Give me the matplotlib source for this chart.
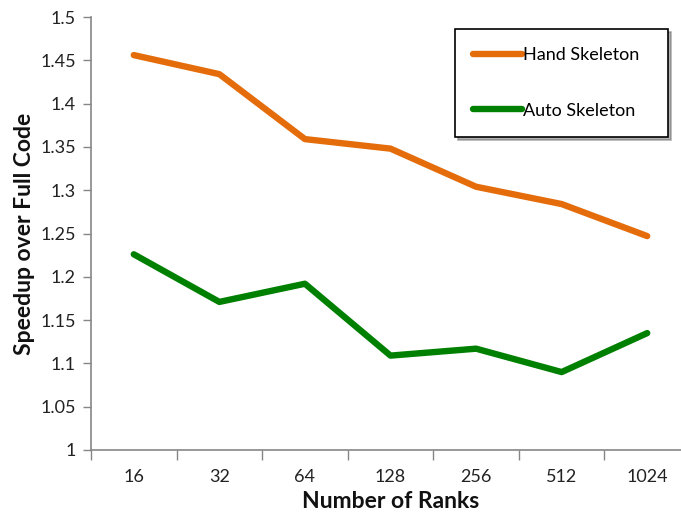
import matplotlib
matplotlib.use("Agg")
import matplotlib.pyplot as plt
import numpy as np
from matplotlib.ticker import FixedLocator, MultipleLocator, FuncFormatter

ranks = ["16", "32", "64", "128", "256", "512", "1024"]
hand = [1.456, 1.434, 1.359, 1.348, 1.304, 1.284, 1.247]
auto = [1.226, 1.171, 1.192, 1.109, 1.117, 1.090, 1.135]

plt.rcParams['font.family'] = ['Lato', 'DejaVu Sans']

W, H = 681, 523
fig = plt.figure(figsize=(W/100, H/100), dpi=100)
left, right, top, bottom = 91, 690, 17, 450
ax = fig.add_axes([left/W, 1-bottom/H, (right-left)/W, (bottom-top)/H])

x = np.arange(len(ranks))
ax.plot(x, hand, color="#E46C0A", lw=4.6, solid_capstyle="round", solid_joinstyle="round", label="Hand Skeleton")
ax.plot(x, auto, color="#008000", lw=4.6, solid_capstyle="round", solid_joinstyle="round", label="Auto Skeleton")

ax.set_xlim(-0.5, len(ranks)-0.5)
ax.set_ylim(1.0, 1.5)
ax.yaxis.set_major_locator(MultipleLocator(0.05))
ax.yaxis.set_major_formatter(FuncFormatter(lambda v, p: f"{round(v, 2):g}"))
ax.set_xticks(x)
ax.set_xticklabels(ranks)
ax.xaxis.set_minor_locator(FixedLocator(np.arange(-0.5, len(ranks), 1.0)))
ax.tick_params(axis='x', which='major', length=0, pad=14, labelsize=13, labelcolor="#222222")
ax.tick_params(axis='x', which='minor', length=7, color="#868686", width=1)
ax.tick_params(axis='y', which='major', length=6, color="#868686", width=1, labelsize=13, labelcolor="#222222", pad=5)

for s in ["top", "right"]:
    ax.spines[s].set_visible(False)
for s in ["left", "bottom"]:
    ax.spines[s].set_color("#868686")
    ax.spines[s].set_linewidth(1.2)

ax.set_xlabel("Number of Ranks", fontsize=16.5, fontweight="bold", color="#111111", labelpad=4)
ax.set_ylabel("Speedup over Full Code", fontsize=16.5, fontweight="bold", color="#111111", labelpad=4)

bw = (668-455)/(right-left)
bx = (455-left)/(right-left)
by = 1-(29-top)/(bottom-top)
leg = ax.legend(loc="upper left", bbox_to_anchor=(bx, by - 0.3, bw, 0.3), mode="expand",
                frameon=True, fancybox=False, shadow={'color': '#666666', 'alpha': 0.5},
                fontsize=13, handlelength=2.7, handletextpad=0.05, labelspacing=2.2,
                borderpad=1.0, borderaxespad=0)
leg.get_frame().set_edgecolor("#000000")
leg.get_frame().set_linewidth(1.2)

fig.savefig("out.png", dpi=100)
